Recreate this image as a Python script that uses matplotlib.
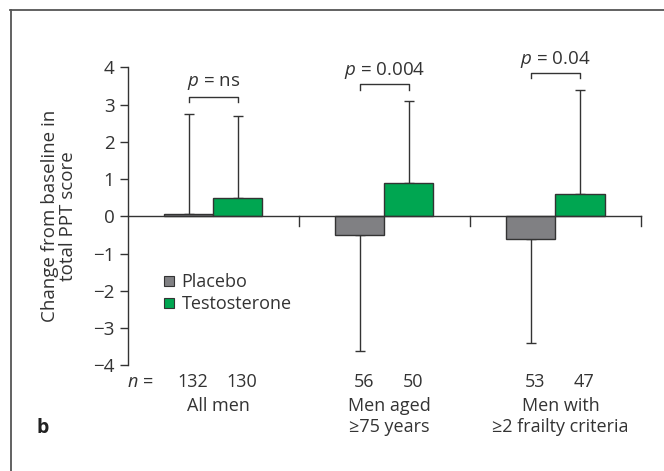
import numpy as np
import matplotlib
matplotlib.use('Agg')
import matplotlib.pyplot as plt
from matplotlib.lines import Line2D

plt.rcParams['font.family'] = ['Open Sans', 'DejaVu Sans']
plt.rcParams['mathtext.fontset'] = 'custom'
plt.rcParams['mathtext.rm'] = 'Open Sans'
plt.rcParams['mathtext.it'] = 'Open Sans:italic'
plt.rcParams['text.color'] = '#333333'

# data
groups = ['All men', 'Men aged\n≥75 years', 'Men with\n≥2 frailty criteria']
placebo = [0.07, -0.51, -0.60]
testo = [0.49, 0.90, 0.59]
placebo_err = [2.68, 3.11, 2.81]
testo_err = [2.20, 2.19, 2.80]
n_placebo = [132, 56, 53]
n_testo = [130, 50, 47]
p_labels = ['ns', '0.004', '0.04']

c_plac = '#808083'
c_test = '#00a651'
edge = '#333333'
fs = 13

fig = plt.figure(figsize=(6.64, 4.71), dpi=100)
ax = fig.add_axes([0.1923, 0.2244, 0.773, 0.6327])

x = np.arange(len(groups)) + 0.5
w = 0.287
xp = x - w/2
xt = x + w/2

ax.bar(xp, placebo, w, color=c_plac, edgecolor=edge, linewidth=1, zorder=3)
ax.bar(xt, testo, w, color=c_test, edgecolor=edge, linewidth=1, zorder=3)

# one-sided error bars (away from zero)
def one_side(vals, errs):
    lo = [e if v < 0 else 0 for v, e in zip(vals, errs)]
    hi = [e if v >= 0 else 0 for v, e in zip(vals, errs)]
    return [lo, hi]

ax.errorbar(xp, placebo, yerr=one_side(placebo, placebo_err), fmt='none',
            ecolor=edge, elinewidth=1, capsize=3.6, capthick=1, zorder=2)
ax.errorbar(xt, testo, yerr=one_side(testo, testo_err), fmt='none',
            ecolor=edge, elinewidth=1, capsize=3.6, capthick=1, zorder=2)

# zero line and group separators
ax.axhline(0, color=edge, lw=1, zorder=4, clip_on=False)
for gx in [1, 2, 3]:
    ax.plot([gx, gx], [0, -0.27], color=edge, lw=1, clip_on=False)

# significance brackets
for i in range(len(groups)):
    tops = [placebo[i] + (placebo_err[i] if placebo[i] >= 0 else 0),
            testo[i] + (testo_err[i] if testo[i] >= 0 else 0)]
    yb = max(tops) + 0.45
    ax.plot([xp[i], xp[i], xt[i], xt[i]], [yb - 0.14, yb, yb, yb - 0.14],
            color=edge, lw=1, clip_on=False)
    ax.text(x[i], yb + 0.38, '$p$ = ' + p_labels[i], ha='center', va='center',
            fontsize=fs + 0.5, clip_on=False)

# n row and group labels
ax.text(0.072, -4.44, '$n$ =', ha='center', va='center', fontsize=fs)
for i in range(len(groups)):
    ax.text(xp[i] + 0.025, -4.44, str(n_placebo[i]), ha='center', va='center', fontsize=fs)
    ax.text(xt[i] + 0.025, -4.44, str(n_testo[i]), ha='center', va='center', fontsize=fs)
    ax.text(x[i] + 0.03, -4.86, groups[i], ha='center', va='top', fontsize=fs,
            linespacing=1.2)

ax.set_xlim(0, 3)
ax.set_ylim(-4, 4)
ax.set_xticks([])
ax.set_yticks(range(-4, 5))
ax.set_yticklabels([str(v).replace('-', '\u2212') for v in range(-4, 5)])
ax.tick_params(axis='y', length=5.5, width=1, color=edge, labelcolor='#333333',
               labelsize=fs + 0.5, pad=4)
for s in ['top', 'right', 'bottom']:
    ax.spines[s].set_visible(False)
ax.spines['left'].set_color(edge)
ax.spines['left'].set_linewidth(1)

handles = [Line2D([], [], marker='s', ls='none', markersize=7,
                  markerfacecolor=c_plac, markeredgecolor=edge, markeredgewidth=0.8),
           Line2D([], [], marker='s', ls='none', markersize=7,
                  markerfacecolor=c_test, markeredgecolor=edge, markeredgewidth=0.8)]
ax.legend(handles, ['Placebo', 'Testosterone'], loc='upper left',
          bbox_to_anchor=(0.07, 0.31), frameon=False, fontsize=fs,
          handlelength=0.6, handletextpad=0.4, labelspacing=0.25,
          borderaxespad=0, borderpad=0)

fig.text(59/664, 1 - 216/471, 'Change from baseline in\ntotal PPT score', rotation=90,
         ha='center', va='center', fontsize=fs + 0.5, linespacing=1.0)
fig.text(43/664, 1 - 428/471, 'b', ha='center', va='center', fontsize=14,
         fontweight='bold', color='#222222')

# panel frame (top and left)
fig.add_artist(Line2D([10/664, 1], [1 - 9.5/471, 1 - 9.5/471], color='#555555', lw=1.3))
fig.add_artist(Line2D([11/664, 11/664], [0, 1 - 9.5/471], color='#555555', lw=1.3))

fig.savefig('out.png', dpi=100)
